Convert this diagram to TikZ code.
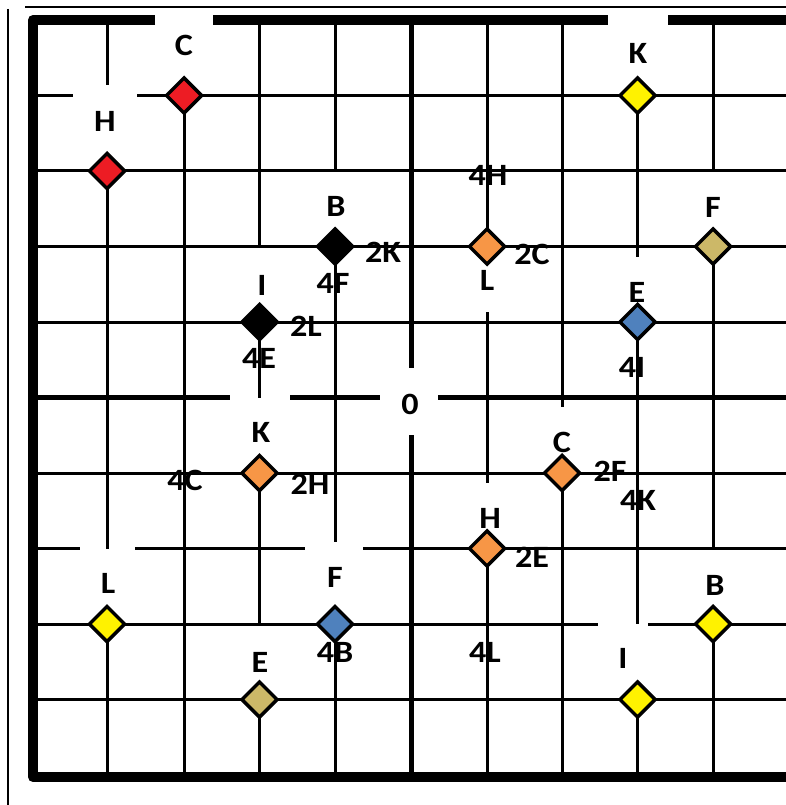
\documentclass[tikz,border=0pt]{standalone}
\usepackage{fontspec}
\setmainfont{Carlito}[FakeStretch=1.1]
\usetikzlibrary{shapes.geometric}
\definecolor{gemred}{RGB}{237,28,36}
\definecolor{gemyellow}{RGB}{255,242,0}
\definecolor{gemorange}{RGB}{247,150,70}
\definecolor{gemblue}{RGB}{79,129,189}
\definecolor{gemtan}{RGB}{204,184,104}
\begin{document}
\begin{tikzpicture}[x=1pt,y=-1pt,
  grid/.style={line width=3pt, line cap=butt},
  axisline/.style={line width=5pt, line cap=butt},
  wall/.style={line width=10pt},
  frame/.style={line width=1.3pt},
  gem/.style={diamond, draw=black, line width=3.5pt, minimum width=36.5pt, minimum height=36.5pt, inner sep=0pt},
  lbl/.style={font=\fontsize{31}{31}\selectfont\bfseries, inner sep=0pt, text=black}]
\useasboundingbox[fill=white] (0,0) rectangle (786,805);
% thin outer frame
\draw[frame] (25,7)--(786,7);
\draw[frame] (8,9)--(8,805);
% vertical grid lines
\draw[grid] (107,20)--(107,85) (107,171)--(107,549) (107,624)--(107,777);
\draw[grid] (184,95.5)--(184,777);
\draw[grid] (259.5,20)--(259.5,246.5) (259.5,322)--(259.5,397.5) (259.5,473)--(259.5,624) (259.5,699.5)--(259.5,777);
\draw[grid] (335,20)--(335,171) (335,246.5)--(335,542) (335,624)--(335,777);
\draw[axisline] (411,20)--(411,368) (411,435)--(411,777);
\draw[grid] (487,20)--(487,246.5) (487,312)--(487,483) (487,548.5)--(487,777);
\draw[grid] (562,20)--(562,407) (562,473)--(562,777);
\draw[grid] (637.5,95.5)--(637.5,257) (637.5,322)--(637.5,624) (637.5,699.5)--(637.5,777);
\draw[grid] (713,20)--(713,171) (713,246.5)--(713,548.5) (713,624)--(713,777);
% horizontal grid lines
\draw[grid] (33,95.5)--(73,95.5) (137,95.5)--(786,95.5);
\draw[grid] (33,171)--(786,171);
\draw[grid] (33,246.5)--(786,246.5);
\draw[grid] (33,322)--(786,322);
\draw[axisline] (33,397.5)--(230,397.5) (290,397.5)--(380,397.5) (438,397.5)--(786,397.5);
\draw[grid] (33,473)--(786,473);
\draw[grid] (33,548.5)--(80,548.5) (135,548.5)--(305,548.5) (363,548.5)--(786,548.5);
\draw[grid] (33,624)--(598,624) (648,624)--(786,624);
\draw[grid] (33,699.5)--(786,699.5);
% thick walls
\draw[wall, line join=round] (155,20)--(33,20)--(33,777)--(786,777);
\draw[wall] (213,20)--(608,20) (668,20)--(786,20);
% diamonds
\node[gem, fill=gemred] (dC1) at (184,95.5) {};
\node[gem, fill=gemred] (dH1) at (107,171) {};
\node[gem, fill=gemyellow] (dK1) at (637.5,95.5) {};
\node[gem, fill=black] (dB1) at (335,246.5) {};
\node[gem, fill=black] (dI1) at (259.5,322) {};
\node[gem, fill=gemorange] (dL1) at (487,246.5) {};
\node[gem, fill=gemtan] (dF1) at (713,246.5) {};
\node[gem, fill=gemblue] (dE1) at (637.5,322) {};
\node[gem, fill=gemorange] (dK2) at (259.5,473) {};
\node[gem, fill=gemorange] (dC2) at (562,473) {};
\node[gem, fill=gemorange] (dH2) at (487,548.5) {};
\node[gem, fill=gemyellow] (dL2) at (107,624) {};
\node[gem, fill=gemblue] (dF2) at (335,624) {};
\node[gem, fill=gemyellow] (dB2) at (713,624) {};
\node[gem, fill=gemtan] (dE2) at (259.5,699.5) {};
\node[gem, fill=gemyellow] (dI2) at (637.5,699.5) {};
% labels
\node[lbl] (tC1) at (184,45) {C};
\node[lbl] (tH1) at (105,121) {H};
\node[lbl] (tK1) at (638,53) {K};
\node[lbl] (t4H) at (488,175) {4H};
\node[lbl] (tB1) at (336,206) {B};
\node[lbl] (t2K) at (383,252) {2K};
\node[lbl] (t4F) at (333,283) {4F};
\node[lbl] (tI1) at (262,285) {I};
\node[lbl] (t2L) at (306,326) {2L};
\node[lbl] (t4E) at (259,358) {4E};
\node[lbl] (t2C) at (532,254) {2C};
\node[lbl] (tL1) at (487,280) {L};
\node[lbl] (tF1) at (713,207) {F};
\node[lbl] (tE1) at (637,292) {E};
\node[lbl] (t4I) at (632,367) {4I};
\node[lbl] (t0) at (410,404) {0};
\node[lbl] (tK2) at (261,432) {K};
\node[lbl] (t4C) at (185,480) {4C};
\node[lbl] (t2H) at (310,484) {2H};
\node[lbl] (tC2) at (562,442) {C};
\node[lbl] (t2F) at (610,471) {2F};
\node[lbl] (t4K) at (638,500) {4K};
\node[lbl] (tH2) at (490,518) {H};
\node[lbl] (t2E) at (532,557) {2E};
\node[lbl] (tL2) at (108,583) {L};
\node[lbl] (tF2) at (335,577) {F};
\node[lbl] (tB2) at (715,585) {B};
\node[lbl] (t4B) at (335,652) {4B};
\node[lbl] (tE2) at (260,662) {E};
\node[lbl] (t4L) at (485,652) {4L};
\node[lbl] (tI2) at (623,658) {I};
\end{tikzpicture}
\end{document}
